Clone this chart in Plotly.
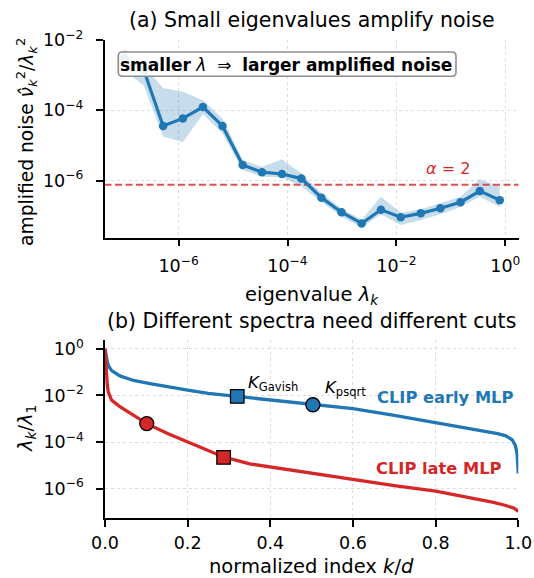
import plotly.graph_objects as go

# ---------------- Panel (a): amplified noise vs eigenvalue ----------------
eigenvalue = [1.0e-7, 2.3e-7, 5.2e-7, 1.2e-6, 2.8e-6, 6.4e-6, 1.5e-5, 3.4e-5,
              7.9e-5, 1.8e-4, 4.2e-4, 9.8e-4, 2.3e-3, 5.2e-3, 1.2e-2, 2.8e-2,
              6.4e-2, 0.15, 0.34, 0.79]
noise_median = [3.1e-3, 1.4e-3, 3.6e-5, 5.9e-5, 1.24e-4, 3.6e-5, 2.8e-6, 1.75e-6,
                1.55e-6, 1.15e-6, 3.3e-7, 1.27e-7, 6.1e-8, 1.5e-7, 9.2e-8, 1.18e-7,
                1.65e-7, 2.45e-7, 5.1e-7, 2.8e-7]
noise_lower = [1.4e-3, 5.0e-4, 1.8e-5, 1.23e-5, 7.9e-5, 2.2e-5, 2.0e-6, 1.3e-6,
               1.26e-6, 6.8e-7, 2.5e-7, 9.5e-8, 4.7e-8, 1.12e-7, 5.5e-8, 7.6e-8,
               1.12e-7, 1.8e-7, 3.5e-7, 1.8e-7]
noise_upper = [5.5e-3, 1.8e-3, 4.3e-4, 3.4e-4, 1.95e-4, 5.9e-5, 3.9e-6, 2.5e-6,
               4.1e-6, 1.6e-6, 4.4e-7, 1.6e-7, 7.9e-8, 3.5e-7, 1.23e-7, 1.55e-7,
               2.3e-7, 3.5e-7, 1.1e-6, 6.8e-7]
alpha_level = 7.7e-7
a_xticks = [1e-6, 1e-4, 1e-2, 1e0]
a_xticklabels = ["10<sup>\u22126</sup>", "10<sup>\u22124</sup>", "10<sup>\u22122</sup>", "10<sup>0</sup>"]
a_yticks = [1e-6, 1e-4, 1e-2]
a_yticklabels = ["10<sup>\u22126</sup>", "10<sup>\u22124</sup>", "10<sup>\u22122</sup>"]

# ---------------- Panel (b): normalized spectra ----------------
early_k = [0.0, 0.003, 0.006, 0.01, 0.016, 0.036, 0.069, 0.109, 0.15, 0.2, 0.25,
           0.32, 0.4, 0.503, 0.6, 0.7, 0.8, 0.9, 0.95, 0.97, 0.985, 0.993, 0.997, 1.0]
early_ratio = [1.0, 0.45, 0.25, 0.166, 0.117, 0.069, 0.044, 0.032, 0.0235, 0.017,
               0.0123, 0.0091, 0.0062, 0.0040, 0.0027, 0.00141, 6.9e-4, 3.2e-4,
               2.3e-4, 1.86e-4, 1.26e-4, 7.1e-5, 3.2e-5, 4.5e-6]
late_k = [0.0, 0.002, 0.004, 0.0056, 0.008, 0.016, 0.036, 0.069, 0.101, 0.15, 0.2,
          0.25, 0.287, 0.35, 0.42, 0.5, 0.6, 0.7, 0.8, 0.85, 0.9, 0.94, 0.97, 0.99, 1.0]
late_ratio = [1.0, 0.16, 0.05, 0.028, 0.014, 0.0063, 0.0033, 0.0014, 6.2e-4, 2.4e-4,
              1.05e-4, 4.4e-5, 2.3e-5, 1.17e-5, 7.6e-6, 4.7e-6, 2.45e-6, 1.35e-6,
              7.8e-7, 5.4e-7, 3.6e-7, 2.6e-7, 1.9e-7, 1.45e-7, 1.07e-7]
early_gavish = [0.320, 9.1e-3]
early_psqrt = [0.503, 4.0e-3]
late_gavish = [0.287, 2.2e-5]
late_psqrt = [0.101, 6.2e-4]
b_xticks = [0.0, 0.2, 0.4, 0.6, 0.8, 1.0]
b_yticks = [1e0, 1e-2, 1e-4, 1e-6]
b_yticklabels = ["10<sup>0</sup>", "10<sup>\u22122</sup>", "10<sup>\u22124</sup>", "10<sup>\u22126</sup>"]

BLUE = "#1f77b4"
RED = "#d62728"
FONT = "DejaVu Sans"
W, H = 534, 578

a_xrange = [-7.36, 0.245]
a_yrange = [-7.62, -2.0]
b_xrange = [0.0, 1.0]
b_yrange = [-7.27, 0.38]


def px(x):
    return x / W


def py(y):
    return 1 - y / H


fig = go.Figure()

# band
fig.add_trace(go.Scatter(x=eigenvalue, y=noise_lower, mode="lines", line=dict(width=0),
                         hoverinfo="skip", showlegend=False, xaxis="x", yaxis="y"))
fig.add_trace(go.Scatter(x=eigenvalue, y=noise_upper, mode="lines", line=dict(width=0),
                         fill="tonexty", fillcolor="rgba(31,119,180,0.25)",
                         hoverinfo="skip", showlegend=False, xaxis="x", yaxis="y"))
# alpha line
fig.add_trace(go.Scatter(x=[10 ** a_xrange[0], 10 ** a_xrange[1]], y=[alpha_level, alpha_level],
                         mode="lines", line=dict(color="rgba(214,39,40,0.8)", width=2, dash="7px,3.5px"),
                         showlegend=False, xaxis="x", yaxis="y"))
# median line
fig.add_trace(go.Scatter(x=eigenvalue, y=noise_median, mode="lines+markers",
                         line=dict(color=BLUE, width=3.2),
                         marker=dict(color=BLUE, size=8.5),
                         showlegend=False, xaxis="x", yaxis="y"))

# panel b curves
fig.add_trace(go.Scatter(x=early_k, y=early_ratio, mode="lines", line=dict(color=BLUE, width=3.3),
                         showlegend=False, xaxis="x2", yaxis="y2"))
fig.add_trace(go.Scatter(x=late_k, y=late_ratio, mode="lines", line=dict(color=RED, width=3.3),
                         showlegend=False, xaxis="x2", yaxis="y2"))
for pt, col, sym in [(early_gavish, BLUE, "square"), (early_psqrt, BLUE, "circle"),
                     (late_psqrt, RED, "circle"), (late_gavish, RED, "square")]:
    fig.add_trace(go.Scatter(x=[pt[0]], y=[pt[1]], mode="markers",
                             marker=dict(color=col, symbol=sym, size=14 if sym == "circle" else 13.5,
                                         line=dict(color="black", width=1.3)),
                             showlegend=False, xaxis="x2", yaxis="y2"))

axis_common = dict(showline=True, linecolor="black", linewidth=1.5, mirror=False,
                   ticks="outside", ticklen=7, tickwidth=1.5, tickcolor="black",
                   showgrid=True, gridcolor="#dcdcdc", griddash="dot", gridwidth=1,
                   zeroline=False, automargin=False,
                   tickfont=dict(family=FONT, size=17.5, color="black"))
ystand = dict(ticklabelstandoff=9)

fig.update_layout(
    template="none",
    width=W, height=H, margin=dict(l=0, r=0, t=0, b=0, pad=0),
    paper_bgcolor="white", plot_bgcolor="white", showlegend=False,
    font=dict(family=FONT, color="black"),
    xaxis=dict(domain=[px(104.5), px(518.7)], anchor="y", type="log", range=a_xrange,
               tickvals=a_xticks, ticktext=a_xticklabels, ticklabelstandoff=5, **axis_common),
    yaxis=dict(domain=[py(237.7), py(40)], anchor="x", type="log", range=a_yrange,
               tickvals=a_yticks, ticktext=a_yticklabels, **axis_common, **ystand),
    xaxis2=dict(domain=[px(105), px(518.3)], anchor="y2", range=b_xrange,
                tickvals=b_xticks, ticktext=["%.1f" % v for v in b_xticks], ticklabelstandoff=1,
                **axis_common),
    yaxis2=dict(domain=[py(518.3), py(340)], anchor="x2", type="log", range=b_yrange,
                tickvals=b_yticks, ticktext=b_yticklabels, **axis_common, **ystand),
)

# rounded box for the note
x0, x1, y0, y1 = px(118.3), px(456), py(76.3), py(52)
rx, ry = 4 / W, 4 / H
path = (f"M {x0+rx},{y0} L {x1-rx},{y0} Q {x1},{y0} {x1},{y0+ry} L {x1},{y1-ry} "
        f"Q {x1},{y1} {x1-rx},{y1} L {x0+rx},{y1} Q {x0},{y1} {x0},{y1-ry} "
        f"L {x0},{y0+ry} Q {x0},{y0} {x0+rx},{y0} Z")
fig.add_shape(type="path", path=path, xref="paper", yref="paper",
              fillcolor="rgba(255,255,255,0.9)", line=dict(color="#8c8c8c", width=1.6), layer="above")


def ann(text, x, y, size, color="black", xanchor="center", yanchor="middle", angle=0):
    fig.add_annotation(text=text, x=px(x), y=py(y), xref="paper", yref="paper",
                       xanchor=xanchor, yanchor=yanchor, showarrow=False, textangle=angle,
                       font=dict(family=FONT, size=size, color=color))


ann("<b>smaller</b> <i>\u03bb</i>  \u21d2  <b>larger amplified noise</b>", 286.2, 64.5, 17)
ann("(a) Small eigenvalues amplify noise", 311.5, 20, 20.5)
ann("(b) Different spectra need different cuts", 311.7, 321, 20.5)
ann("eigenvalue <i>\u03bb<sub>k</sub></i>", 311.5, 295.5, 19.5)
ann("normalized index <i>k</i>/<i>d</i>", 311.7, 566, 19.5)
ann("amplified noise <i>\u03bd\u0302</i><sub><i>k</i></sub><sup>2</sup>/<i>\u03bb</i><sub><i>k</i></sub><sup>2</sup>",
    26, 142, 18.7, angle=-90)
ann("<i>\u03bb<sub>k</sub></i>/<i>\u03bb</i><sub>1</sub>", 26, 429, 19.5, angle=-90)
ann("<i>\u03b1</i> = 2", 448, 169, 16, color=RED)
ann("<i>K</i><sub>Gavish</sub>", 246, 383, 16.5, xanchor="left")
ann("<i>K</i><sub>psqrt</sub>", 322.5, 388, 16.5, xanchor="left")
ann("<b>CLIP early MLP</b>", 375, 397, 16.3, color=BLUE, xanchor="left")
ann("<b>CLIP late MLP</b>", 374.3, 468.5, 16.3, color=RED, xanchor="left")

fig.write_html("out.html")
